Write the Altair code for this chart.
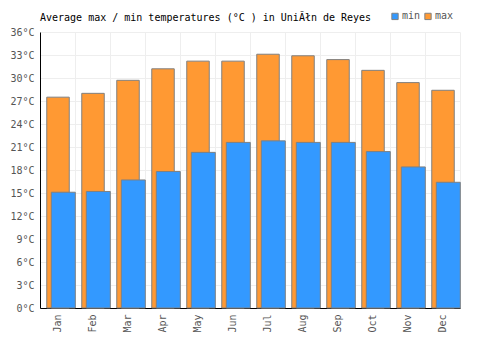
import altair as alt
import pandas as pd

months = ["Jan", "Feb", "Mar", "Apr", "May", "Jun", "Jul", "Aug", "Sep", "Oct", "Nov", "Dec"]
max_temps = [27.5, 28.0, 29.7, 31.2, 32.2, 32.2, 33.1, 32.9, 32.4, 31.0, 29.4, 28.4]
min_temps = [15.1, 15.2, 16.7, 17.8, 20.3, 21.6, 21.8, 21.6, 21.6, 20.4, 18.4, 16.4]
y_ticks = [0, 3, 6, 9, 12, 15, 18, 21, 24, 27, 30, 33, 36]

df = pd.DataFrame({
    "month": months * 2,
    "type": ["max"] * 12 + ["min"] * 12,
    "temp": max_temps + min_temps,
})

FONT = "DejaVu Sans Mono"

x = alt.X("month:N", sort=months, title=None,
          scale=alt.Scale(paddingInner=0, paddingOuter=0),
          axis=alt.Axis(labelAngle=-90, ticks=False, tickBand="extent", labelPadding=6,
                        domainColor="#000", gridColor="#eeeeee", grid=True,
                        labelColor="#555", labelFont=FONT, labelFontSize=10))
y = alt.Y("temp:Q", title=None,
          scale=alt.Scale(domain=[0, 36], nice=False),
          axis=alt.Axis(values=y_ticks, labelExpr="datum.value + '°C'", ticks=False,
                        labelPadding=6, domainColor="#000", gridColor="#eeeeee",
                        labelColor="#555", labelFont=FONT, labelFontSize=10))
color = alt.Color("type:N",
                  scale=alt.Scale(domain=["min", "max"], range=["#3399ff", "#ff9933"]),
                  legend=alt.Legend(orient="none", legendX=350, legendY=-21, direction="horizontal",
                                    title=None, symbolType="square", symbolSize=40,
                                    symbolStrokeColor="#808080", symbolStrokeWidth=1,
                                    symbolOpacity=1, labelFont=FONT, labelFontSize=10,
                                    labelColor="#555", labelOffset=2, columnPadding=1))

base = alt.Chart(df)
max_bars = base.transform_filter("datum.type == 'max'").mark_bar(
    xOffset=0.5, width=22.5, stroke="#808080", strokeWidth=1, opacity=1
).encode(x=x, y=y, color=color)
min_bars = base.transform_filter("datum.type == 'min'").mark_bar(
    xOffset=5.8, width=24, stroke="#808080", strokeWidth=1, opacity=1
).encode(x=x, y=y, color=color)

chart = alt.layer(max_bars, min_bars).properties(
    width=420, height=276,
    autosize=alt.AutoSizeParams(type="none"),
    padding={"left": 40, "top": 32, "right": 40, "bottom": 42},
    title=alt.Title("Average max / min temperatures (°C ) in UniĂłn de Reyes",
                    anchor="start", frame="group", font=FONT, fontSize=10, fontWeight="normal",
                    color="#000", offset=-12),
).configure_view(stroke=None).configure_axis(gridColor="#eeeeee")

chart.save("out.html", embed_options={"renderer": "svg", "actions": False})
